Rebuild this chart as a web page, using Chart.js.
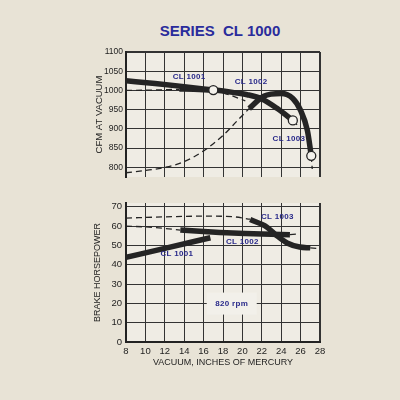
<!DOCTYPE html>
<html>
<head>
<meta charset="utf-8">
<script src="https://cdn.jsdelivr.net/npm/chart.js@4.4.1/dist/chart.umd.min.js"></script>
<style>
  html, body { margin: 0; padding: 0; background: #e8e3d6; }
  #wrap { position: relative; width: 400px; height: 400px; overflow: hidden; }
  #title { position: absolute; left: 120px; width: 200px; top: 22px; line-height: 20px; text-align: center;
           font: bold 15px "Liberation Sans", Arial, sans-serif; color: #2a2c9c; white-space: pre; }
  canvas { position: absolute; left: 0; }
</style>
</head>
<body>
<div id="wrap">
  <div id="title">SERIES  CL 1000</div>
  <canvas id="cfm" width="400" height="190" style="top:0"></canvas>
  <canvas id="hp" width="400" height="210" style="top:190px"></canvas>
</div>
<script>
// tick labels
const vacuumTicks = [8, 10, 12, 14, 16, 18, 20, 22, 24, 26, 28];
const cfmTicks = [800, 850, 900, 950, 1000, 1050, 1100];
const hpTicks = [0, 10, 20, 30, 40, 50, 60, 70];

// CFM at vacuum (top panel)
const cfm1001X = [8, 11, 14, 17];
const cfm1001Y = [1025, 1018, 1010, 1001];
const cfm1001DashX = [17, 18.7, 20.3];
const cfm1001DashY = [1001, 988, 973];
const cfm1002DashX = [8, 10.5, 13.5];
const cfm1002DashY = [1000, 1001, 1003];
const cfm1002X = [13.5, 15, 17, 19, 20.5, 22, 23.6, 25.2];
const cfm1002Y = [1004, 1003, 1001, 995, 989, 978, 953, 922];
const cfm1002TailX = [25.2, 25.9];
const cfm1002TailY = [922, 904];
const cfm1003DashX = [8, 10, 12, 14, 16, 18, 19.5, 20.7];
const cfm1003DashY = [786, 792, 800, 815, 843, 883, 922, 953];
const cfm1003X = [20.7, 22.2, 24, 25.2, 26, 26.7, 27.1];
const cfm1003Y = [953, 985, 992, 979, 948, 896, 830];
const cfm1003TailX = [27.1, 27.2];
const cfm1003TailY = [830, 796];
const cfmRatedX = [17, 25.2, 27.1];
const cfmRatedY = [1001, 922, 830];

// brake horsepower (bottom panel)
const hp1001X = [8, 12, 16.7];
const hp1001Y = [43.8, 48.5, 54];
const hp1002DashX = [8, 10, 12, 13.6];
const hp1002DashY = [60, 59.6, 58.8, 58];
const hp1002X = [13.6, 16, 19, 22, 24.9];
const hp1002Y = [58, 57.2, 56.4, 55.9, 55.6];
const hp1002TailX = [24.9, 25.7];
const hp1002TailY = [55.6, 56];
const hp1003DashX = [8, 12, 16, 19, 20.8];
const hp1003DashY = [64.2, 64.8, 65.2, 64.9, 63.6];
const hp1003X = [20.8, 22.5, 23.5, 24.6, 25.9, 27];
const hp1003Y = [63.4, 59.6, 55.3, 51.3, 49.2, 48.8];
const hp1003TailX = [27, 28];
const hp1003TailY = [48.8, 48.3];

// curve labels
const cfmLabelText = ['CL 1001', 'CL 1002', 'CL 1003'];
const cfmLabelX = [14.5, 20.9, 24.8];
const cfmLabelY = [1036, 1022, 875];
const hpLabelText = ['CL 1003', 'CL 1002', 'CL 1001', '820 rpm'];
const hpLabelX = [23.6, 20.0, 13.25, 18.9];
const hpLabelY = [64.8, 51.8, 45.8, 19.9];

const ink = '#242424';
const blue = '#28298a';

function pts(xs, ys) {
  return xs.map((x, i) => ({ x: x, y: ys[i] }));
}
function solid(xs, ys) {
  return { data: pts(xs, ys), borderColor: ink, borderWidth: 5.5, pointRadius: 0,
           cubicInterpolationMode: 'monotone', borderCapStyle: 'butt' };
}
function dashed(xs, ys) {
  return { data: pts(xs, ys), borderColor: ink, borderWidth: 1.3, borderDash: [6, 4], pointRadius: 0,
           cubicInterpolationMode: 'monotone' };
}

// paper background, light gap behind "820 rpm", blue labels
const paper = {
  id: 'paper',
  beforeDraw(chart) {
    const { ctx, chartArea: a } = chart;
    ctx.save();
    ctx.fillStyle = '#efece4';
    ctx.fillRect(a.left, a.top, a.right - a.left, a.bottom - a.top);
    ctx.restore();
  },
  beforeDatasetsDraw(chart, args, opts) {
    if (!opts.gap) return;
    const { ctx, scales } = chart;
    const cx = scales.x.getPixelForValue(opts.gap.x);
    const cy = scales.y.getPixelForValue(opts.gap.y);
    ctx.save();
    ctx.fillStyle = '#f2f0ea';
    ctx.fillRect(cx - 25, cy - 11, 50, 22);
    ctx.restore();
  },
  afterDatasetsDraw(chart, args, opts) {
    const { ctx, scales } = chart;
    ctx.save();
    ctx.fillStyle = blue;
    ctx.font = 'bold 8px "Liberation Sans", Arial, sans-serif';
    ctx.letterSpacing = '0.3px';
    ctx.textAlign = 'center';
    ctx.textBaseline = 'middle';
    opts.text.forEach((t, i) => {
      ctx.fillText(t, scales.x.getPixelForValue(opts.x[i]), scales.y.getPixelForValue(opts.y[i]));
    });
    ctx.restore();
  }
};

const family = '"Liberation Sans", Arial, sans-serif';

function xAxis(showLabels) {
  return {
    type: 'linear', min: 8, max: 28,
    afterBuildTicks: s => { s.ticks = vacuumTicks.map(v => ({ value: v })); },
    afterFit: s => { s.height = showLabels ? 30 : 0; },
    grid: { color: '#333', drawTicks: false, lineWidth: c => (c.tick && c.tick.value === 28 ? 2 : 1) },
    border: { display: showLabels, color: '#222', width: 2 },
    ticks: { display: showLabels, color: '#1e1e1e', font: { family: family, size: 9.5 }, padding: 4,
             callback: v => String(v) },
    title: { display: showLabels, text: 'VACUUM, INCHES OF MERCURY', color: '#1e1e1e',
             font: { family: family, size: 9 }, padding: { top: 0, bottom: 4 } }
  };
}

new Chart(document.getElementById('cfm'), {
  type: 'line',
  data: {
    datasets: [
      { data: pts(cfmRatedX, cfmRatedY), showLine: false, pointRadius: 4.5, pointBackgroundColor: '#f4f2ec',
        pointBorderColor: ink, pointBorderWidth: 1.3 },
      solid(cfm1001X, cfm1001Y),
      solid(cfm1002X, cfm1002Y),
      solid(cfm1003X, cfm1003Y),
      dashed(cfm1001DashX, cfm1001DashY),
      dashed(cfm1002DashX, cfm1002DashY),
      dashed(cfm1002TailX, cfm1002TailY),
      dashed(cfm1003DashX, cfm1003DashY),
      dashed(cfm1003TailX, cfm1003TailY)
    ]
  },
  options: {
    responsive: false,
    animation: false,
    layout: { padding: { top: 52, left: 94, right: 80, bottom: 13 } },
    plugins: {
      legend: { display: false },
      tooltip: { enabled: false },
      paper: { text: cfmLabelText, x: cfmLabelX, y: cfmLabelY }
    },
    scales: {
      x: xAxis(false),
      y: {
        min: 775, max: 1100,
        afterBuildTicks: s => { s.ticks = cfmTicks.map(v => ({ value: v })); },
        afterFit: s => { s.width = 32; },
        grid: { color: '#333', drawTicks: false, lineWidth: c => (c.tick && c.tick.value === 1100 ? 2 : 1) },
        border: { color: '#222', width: 2 },
        ticks: { color: '#1e1e1e', font: { family: family, size: 8.5 }, padding: 3, callback: v => String(v) },
        title: { display: true, text: 'CFM AT VACUUM', color: '#1e1e1e', font: { family: family, size: 9.5 }, padding: 0 }
      }
    }
  },
  plugins: [paper]
});

new Chart(document.getElementById('hp'), {
  type: 'line',
  data: {
    datasets: [
      solid(hp1001X, hp1001Y),
      solid(hp1002X, hp1002Y),
      solid(hp1003X, hp1003Y),
      dashed(hp1002DashX, hp1002DashY),
      dashed(hp1002TailX, hp1002TailY),
      dashed(hp1003DashX, hp1003DashY),
      dashed(hp1003TailX, hp1003TailY)
    ]
  },
  options: {
    responsive: false,
    animation: false,
    layout: { padding: { top: 13, left: 92, right: 80, bottom: 28 } },
    plugins: {
      legend: { display: false },
      tooltip: { enabled: false },
      paper: { text: hpLabelText, x: hpLabelX, y: hpLabelY, gap: { x: hpLabelX[3], y: hpLabelY[3] } }
    },
    scales: {
      x: xAxis(true),
      y: {
        min: 0, max: 72,
        afterBuildTicks: s => { s.ticks = hpTicks.map(v => ({ value: v })); },
        afterFit: s => { s.width = 34; },
        grid: { color: '#333', drawTicks: false },
        border: { color: '#222', width: 2 },
        ticks: { color: '#1e1e1e', font: { family: family, size: 9.5 }, padding: 4, callback: v => String(v) },
        title: { display: true, text: 'BRAKE HORSEPOWER', color: '#1e1e1e', font: { family: family, size: 9 }, padding: 0 }
      }
    }
  },
  plugins: [paper]
});
</script>
</body>
</html>
